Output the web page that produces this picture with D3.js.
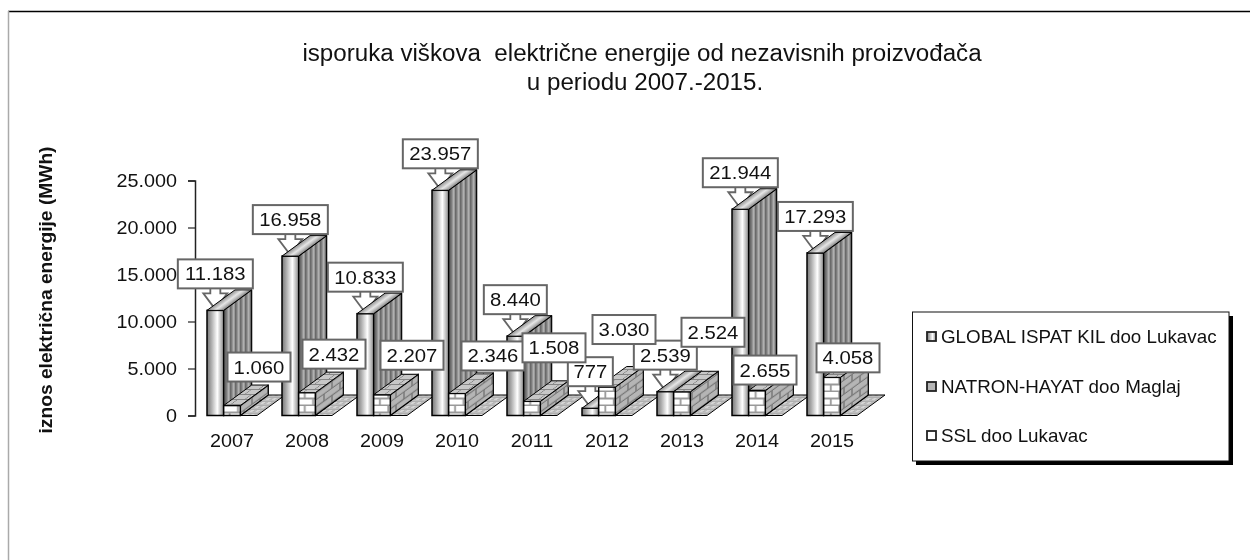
<!DOCTYPE html>
<html><head><meta charset="utf-8">
<script src="https://cdnjs.cloudflare.com/ajax/libs/d3/7.8.5/d3.min.js"></script>
<style>html,body{margin:0;padding:0;background:#fff}svg{display:block;filter:blur(0.4px)}text{font-family:"Liberation Sans",Arial,sans-serif;fill:#111;white-space:pre}</style>
</head><body><svg id="c" width="1250" height="560"></svg>
<script>
const years=["2007","2008","2009","2010","2011","2012","2013","2014","2015"];
const seriesNames=["GLOBAL ISPAT KIL doo Lukavac","NATRON-HAYAT doo Maglaj","SSL doo Lukavac"];
const globalValues=[11183,16958,10833,23957,8440,777,2539,21944,17293];
const natronValues=[1060,2432,2207,2346,1508,3030,2524,2655,4058];
const sslValues=[0,0,0,0,0,0,0,0,0];
const yTicks=[0,5000,10000,15000,20000,25000];
const titleLines=["isporuka viškova  električne energije od nezavisnih proizvođača","u periodu 2007.-2015."];
const yTitle="iznos električna energije (MWh)";
// callout displacement of the NATRON labels from their bar (dx, rise)
const natronLabelDx=[27,27,30,36,22,17,31,8,16];
const natronLabelRise=[24,24,25,23,39,43,45,6,5];

const svg=d3.select("#c");
const dot=v=>d3.format(",")(v).replace(/,/g,".");
const stretch=1.07;
const x=d3.scaleBand().domain(years).range([194.5,869.5]).paddingInner(1/3).paddingOuter(1/6);
const s=d3.scaleBand().domain([0,1,2]).range([0,x.bandwidth()]);
const y=d3.scaleLinear().domain([0,25000]).range([415.5,180.5]);
const depthX=28,depthY=-20.5;

// defs
const defs=svg.append("defs");
const g1=defs.append("linearGradient").attr("id","frontG");
[[0,"#777"],[.25,"#aaa"],[.62,"#fff"],[1,"#8a8a8a"]].forEach(d=>g1.append("stop").attr("offset",d[0]).attr("stop-color",d[1]));
const g2=defs.append("linearGradient").attr("id","topG").attr("x1",.3).attr("y1",.5).attr("x2",.578).attr("y2",.674);
[[0,"#8a8a8a"],[.5,"#e6e6e6"],[.7,"#c4c4c4"],[1,"#808080"]].forEach(d=>g2.append("stop").attr("offset",d[0]).attr("stop-color",d[1]));
const stripes=defs.append("pattern").attr("id","sideG").attr("patternUnits","userSpaceOnUse").attr("width",5).attr("height",8);
stripes.append("rect").attr("width",5).attr("height",8).attr("fill","#959595");
stripes.append("rect").attr("x",0).attr("width",1.6).attr("height",8).attr("fill","#6a6a6a");
stripes.append("rect").attr("x",3).attr("width",1.2).attr("height",8).attr("fill","#b0b0b0");
function brick(id,bg,line,w,h,tf,lw){
  const p=defs.append("pattern").attr("id",id).attr("patternUnits","userSpaceOnUse").attr("width",w).attr("height",h*2);
  if(tf)p.attr("patternTransform",tf);
  p.append("rect").attr("width",w).attr("height",h*2).attr("fill",bg);
  p.append("path").attr("fill","none").attr("stroke",line).attr("stroke-width",lw)
   .attr("d",`M0 ${h-.5}H${w}M0 ${2*h-.5}H${w}M${w/4} 0V${h}M${w*3/4} ${h}V${2*h}`);
}
brick("brickF","#fff","#999",16.7,7,null,1.8);
brick("brickS","#b5b5b5","#777",16,7,"skewY(-36)",1.3);
brick("brickT","#c8c8c8","#808080",14,5,"skewX(-54)",1);
const fl=defs.append("pattern").attr("id","floorG").attr("patternUnits","userSpaceOnUse").attr("width",6).attr("height",4).attr("patternTransform","skewX(-54)");
fl.append("rect").attr("width",6).attr("height",4).attr("fill","#d6d6d6");
fl.append("path").attr("d","M0 1H6M3 3H6").attr("stroke","#999").attr("stroke-width",1);

// frame
svg.append("line").attr("x1",8).attr("x2",1250).attr("y1",11.5).attr("y2",11.5).attr("stroke","#000").attr("stroke-width",1.5);
svg.append("line").attr("x1",8.5).attr("x2",8.5).attr("y1",11).attr("y2",560).attr("stroke","#aaa").attr("stroke-width",1.5);

// title
function sText(sel,tx,ty,str,size,anchor,sx){
  return sel.append("text").attr("transform",`translate(${tx},${ty}) scale(${sx||stretch},1)`)
    .attr("font-size",size).attr("text-anchor",anchor||"middle").text(str);
}
sText(svg,642,61,titleLines[0],23,"middle",1.05);
sText(svg,645,90,titleLines[1],23,"middle",1.05);
svg.append("text").attr("transform","translate(52,290) rotate(-90) scale(1.067,1)")
  .attr("font-size",18).attr("font-weight","bold").attr("text-anchor","middle").text(yTitle);

// axis
const ax=svg.append("g").attr("transform","translate(195,0)")
  .call(d3.axisLeft(y).tickValues(yTicks).tickFormat(dot).tickSize(7).tickPadding(0));
ax.select(".domain").attr("stroke","#222").attr("stroke-width",1.5);
ax.selectAll(".tick line").attr("stroke","#222").attr("stroke-width",1.2);
ax.selectAll(".tick text").remove();
yTicks.forEach(t=>sText(svg,177,y(t)+6.5,dot(t),18.5,"end"));
years.forEach(yr=>sText(svg,x(yr)+x.bandwidth()/2,447,yr,18.5));

// geometry
function box3d(g,x0,w,top,fills){
  const b=y(0);
  if(top<b){
    g.append("path").attr("d",`M${x0+w} ${top}l${depthX} ${depthY}V${b+depthY}l${-depthX} ${-depthY}Z`)
     .attr("fill",fills.side).attr("stroke","#000").attr("stroke-width",1.2).attr("stroke-linejoin","round");
    g.append("rect").attr("x",x0).attr("y",top).attr("width",w).attr("height",b-top)
     .attr("fill",fills.front).attr("stroke","#000").attr("stroke-width",1.5);
  }
  g.append("path").attr("d",`M${x0} ${top}h${w}l${depthX} ${depthY}h${-w}Z`)
   .attr("fill",fills.top).attr("stroke","#000").attr("stroke-width",1).attr("stroke-linejoin","round");
}
const globalFill={front:"url(#frontG)",side:"url(#sideG)",top:"url(#topG)"};
const natronFill={front:"url(#brickF)",side:"url(#brickS)",top:"url(#brickT)"};
const sslFill={top:"url(#floorG)"};

const scene=svg.append("g");
function arrowPath(cx,by,tip){
  return `M${cx-5} ${by}V${by+5}H${cx-12}L${cx} ${tip}L${cx+12} ${by+5}H${cx+5}V${by}`;
}
years.forEach((yr,i)=>{
  const x0=x(yr),w=s.bandwidth();
  const grp=scene.append("g");
  box3d(grp,x0+s(2),w,y(sslValues[i]),sslFill);
  // callout pointer sits behind the bar's top face
  const cx=x0+w/2,top=y(globalValues[i]);
  grp.append("path").attr("d",arrowPath(cx,top-22,top-1)).attr("fill","#fff").attr("stroke","#666").attr("stroke-width",1.8);
  box3d(grp,x0+s(0),w,top,globalFill);
  box3d(grp,x0+s(1),w,y(natronValues[i]),natronFill);
});

// callout boxes
const labels=scene.append("g");
function callout(cx,bottom,str){
  const wd=str.length>=6?75:(str.length==5?63:45),h=29;
  labels.append("rect").attr("x",cx-wd/2).attr("y",bottom-h).attr("width",wd).attr("height",h)
    .attr("fill","#fff").attr("stroke","#666").attr("stroke-width",2);
  sText(labels,cx,bottom-8,str,19);
}
years.forEach((yr,i)=>{
  const x0=x(yr),w=s.bandwidth();
  callout(x0+w/2,y(globalValues[i])-22,dot(globalValues[i]));
});
years.forEach((yr,i)=>{
  const x0=x(yr),w=s.bandwidth();
  callout(x0+s(1)+w/2+natronLabelDx[i],y(natronValues[i])-natronLabelRise[i],dot(natronValues[i]));
});

// legend
const lg=svg.append("g");
lg.append("rect").attr("x",916).attr("y",316).attr("width",317).attr("height",149).attr("fill","#000");
lg.append("rect").attr("x",912.5).attr("y",312).attr("width",316.5).attr("height",149).attr("fill","#fff").attr("stroke","#111").attr("stroke-width",1);
const keyFills=["url(#frontG)","#b5b5b5","#fff"];
seriesNames.forEach((n,i)=>{
  const cy=[336.5,386.5,435.5][i];
  lg.append("rect").attr("x",927).attr("y",cy-4.5).attr("width",9).attr("height",9).attr("fill",keyFills[i]).attr("stroke","#222").attr("stroke-width",1.8);
  sText(lg,941,cy+6,n,17.5,"start",1.075);
});
</script></body></html>
